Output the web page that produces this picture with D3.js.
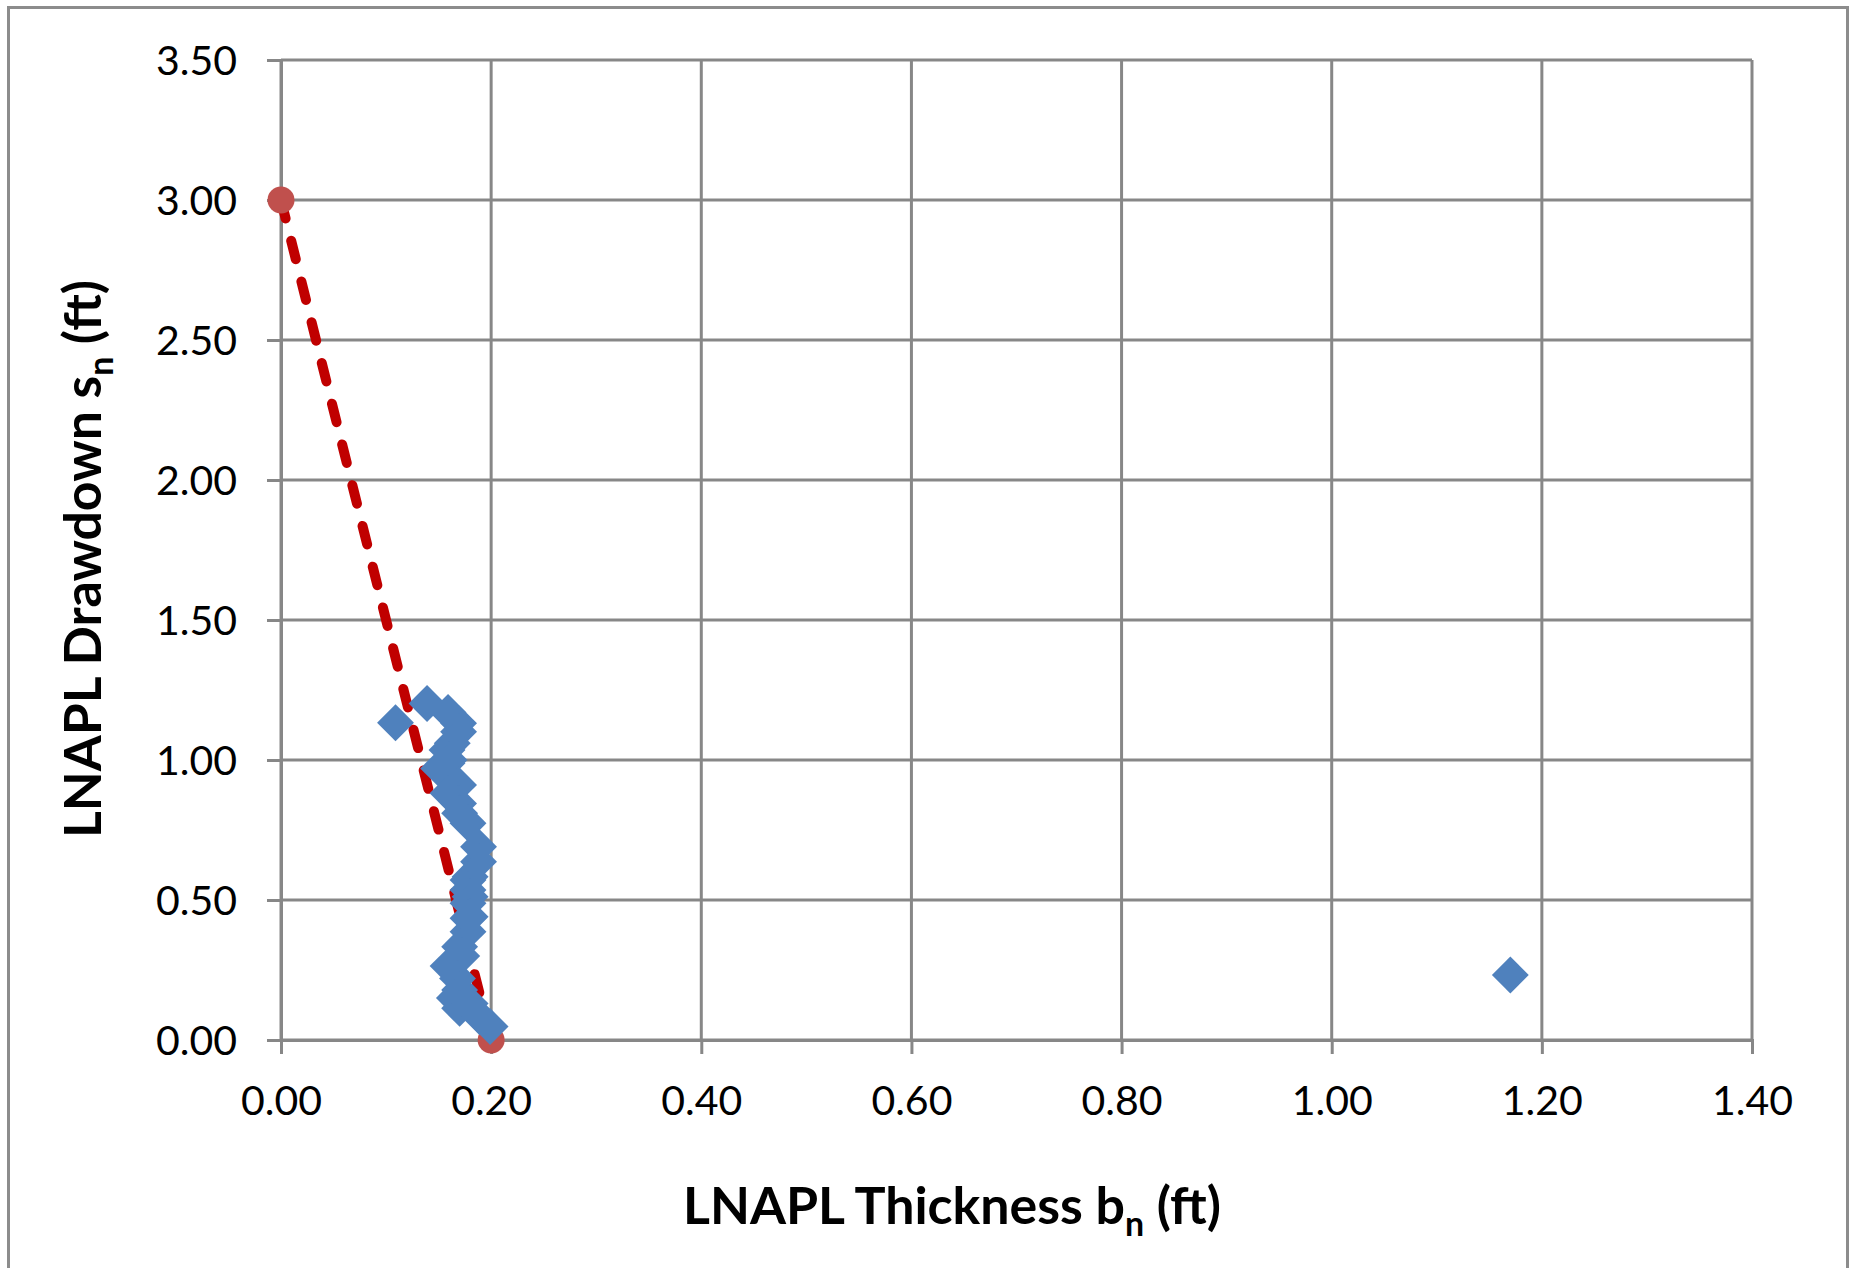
<!DOCTYPE html>
<html>
<head>
<meta charset="utf-8">
<script src="https://cdn.jsdelivr.net/npm/d3@7/dist/d3.min.js"></script>
<style>
  html, body { margin: 0; padding: 0; background: #fff; }
  svg { display: block; }
</style>
</head>
<body>
<svg id="chart" width="1855" height="1268"></svg>
<script>
// Measured LNAPL thickness vs drawdown pairs (ft)
const thickness = [0.109, 0.139, 0.159, 0.169, 0.169, 0.163, 0.158, 0.160, 0.158, 0.150,
                   0.169, 0.159, 0.169, 0.170, 0.178, 0.188, 0.188, 0.180, 0.178, 0.178,
                   0.180, 0.178, 0.180, 0.178, 0.178, 0.170, 0.172, 0.159, 0.168, 0.170,
                   0.165, 0.170, 0.180, 0.189, 0.199, 1.170];
const drawdown  = [1.133, 1.202, 1.170, 1.131, 1.101, 1.060, 1.036, 1.000, 0.988, 0.970,
                   0.911, 0.881, 0.845, 0.810, 0.774, 0.690, 0.637, 0.583, 0.571, 0.536,
                   0.512, 0.488, 0.440, 0.435, 0.387, 0.333, 0.300, 0.264, 0.220, 0.179,
                   0.150, 0.113, 0.130, 0.083, 0.048, 0.232];

// Fitted trend line end points
const fitThickness = [0.00, 0.20];
const fitDrawdown  = [3.00, 0.00];

// Axis ticks
const xTicks = [0.00, 0.20, 0.40, 0.60, 0.80, 1.00, 1.20, 1.40];
const yTicks = [0.00, 0.50, 1.00, 1.50, 2.00, 2.50, 3.00, 3.50];

const svg = d3.select("#chart");
const gridColor = "#878787";
const tickFont = "Lato, 'Open Sans', sans-serif";

const x = d3.scaleLinear().domain([0, 1.4]).range([281, 1752]);
const y = d3.scaleLinear().domain([0, 3.5]).range([1040, 60]);

// Chart frame
svg.append("rect")
  .attr("x", 8.5).attr("y", 7.5)
  .attr("width", 1839).attr("height", 1300)
  .attr("fill", "#fff")
  .attr("stroke", "#8c8c8c").attr("stroke-width", 3);

// Gridlines
svg.append("g").selectAll("line").data(xTicks).join("line")
  .attr("x1", d => x(d)).attr("x2", d => x(d))
  .attr("y1", y(3.5)).attr("y2", y(0))
  .attr("stroke", gridColor).attr("stroke-width", 3);
svg.append("g").selectAll("line").data(yTicks).join("line")
  .attr("x1", x(0)).attr("x2", x(1.4))
  .attr("y1", d => y(d)).attr("y2", d => y(d))
  .attr("stroke", gridColor).attr("stroke-width", 3);

// Axes
const fmt = d3.format(".2f");
const xAxis = svg.append("g")
  .attr("transform", `translate(0,${y(0)})`)
  .call(d3.axisBottom(x).tickValues(xTicks).tickFormat(fmt).tickSize(14).tickPadding(32));
const yAxis = svg.append("g")
  .attr("transform", `translate(${x(0)},0)`)
  .call(d3.axisLeft(y).tickValues(yTicks).tickFormat(fmt).tickSize(14).tickPadding(30));

[xAxis, yAxis].forEach(g => {
  g.select(".domain").attr("stroke", gridColor).attr("stroke-width", 3);
  g.selectAll(".tick line").attr("stroke", gridColor).attr("stroke-width", 3);
  g.selectAll(".tick text")
    .attr("fill", "#000")
    .style("font-family", tickFont)
    .style("font-size", "41px");
});
yAxis.selectAll(".tick text").attr("dy", "0.36em");

// Trend line (dashed) and its end markers
const fitPts = fitThickness.map((t, i) => [t, fitDrawdown[i]]);
svg.append("path")
  .datum(fitPts)
  .attr("d", d3.line().x(d => x(d[0])).y(d => y(d[1])))
  .attr("fill", "none")
  .attr("stroke", "#C00000")
  .attr("stroke-width", 10)
  .attr("stroke-linecap", "round")
  .attr("stroke-dasharray", "19,23");

svg.append("g").selectAll("circle").data(fitPts).join("circle")
  .attr("cx", d => x(d[0])).attr("cy", d => y(d[1]))
  .attr("r", 13.5)
  .attr("fill", "#C0504D");

// Observed data points (diamonds)
const diamond = d3.symbol().type(d3.symbolSquare).size(680);
const obs = thickness.map((t, i) => [t, drawdown[i]]);
svg.append("g").selectAll("path").data(obs).join("path")
  .attr("d", diamond)
  .attr("transform", d => `translate(${x(d[0])},${y(d[1])}) rotate(45)`)
  .attr("fill", "#4F81BD");

// Axis titles
const titleFont = "Lato, 'Open Sans', sans-serif";
const xTitle = svg.append("text")
  .attr("x", 952).attr("y", 1224)
  .attr("text-anchor", "middle")
  .style("font-family", titleFont)
  .style("font-weight", "bold")
  .style("font-size", "52px");
xTitle.append("tspan").text("LNAPL Thickness b");
xTitle.append("tspan").attr("dy", 12).style("font-size", "34px").text("n");
xTitle.append("tspan").attr("dy", -12).text(" (ft)");

const yTitle = svg.append("text")
  .attr("transform", "translate(101,559) rotate(-90)")
  .attr("text-anchor", "middle")
  .style("font-family", titleFont)
  .style("font-weight", "bold")
  .style("font-size", "52px");
yTitle.append("tspan").text("LNAPL Drawdown s");
yTitle.append("tspan").attr("dy", 12).style("font-size", "34px").text("n");
yTitle.append("tspan").attr("dy", -12).text(" (ft)");

// Fit title widths to their extents
[[xTitle, 538], [yTitle, 558]].forEach(([t, w]) => {
  t.attr("textLength", w).attr("lengthAdjust", "spacingAndGlyphs");
});
</script>
</body>
</html>
